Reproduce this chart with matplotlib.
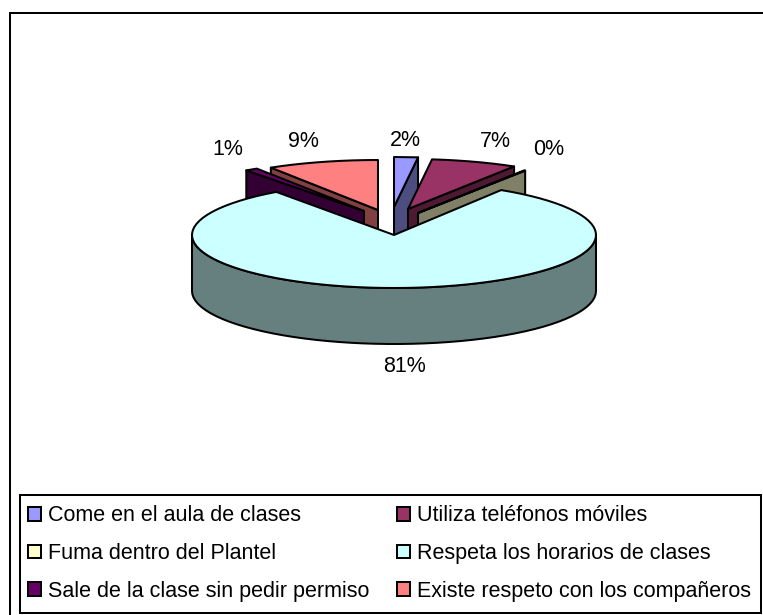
import numpy as np
import matplotlib
matplotlib.use("Agg")
import matplotlib.pyplot as plt
from matplotlib.patches import Polygon, Patch, Rectangle

plt.rcParams['font.family'] = ['Liberation Sans', 'DejaVu Sans']

categories = ["Come en el aula de clases", "Utiliza teléfonos móviles",
              "Fuma dentro del Plantel", "Respeta los horarios de clases",
              "Sale de la clase sin pedir permiso", "Existe respeto con los compañeros"]
values = [1.9, 6.9, 0.1, 81.2, 1.0, 8.9]
top_colors = ["#9999FF", "#993366", "#FFFFCC", "#CCFFFF", "#660066", "#FF8080"]
side_colors = ["#4D4D80", "#4D1933", "#808066", "#668080", "#330033", "#804040"]

CX, CY, RX, RY, DEPTH = 394, 235, 202, 53, 56
RY_BACK = 50
explode = [(0, -28), (14, -26), (24, -22), (0, 0), (-30, -24), (-16, -25)]
label_pos = [(405, 141), (495, 141.5), (549, 149.5), (405, 366.5), (228, 149.5), (303, 141.5)]
LW = 1.45
FS = 15.5

fig = plt.figure(figsize=(7.63, 6.15), dpi=100)
ax = fig.add_axes([0, 0, 1, 1])
ax.set_xlim(0, 763)
ax.set_ylim(615, 0)
ax.axis('off')

ax.plot([10, 10, 763], [615, 13, 13], color='black', lw=LW, solid_joinstyle='miter')


def pt(a, ox, oy):
    r = np.radians(a)
    ry = RY if (ox, oy) == (0, 0) else RY_BACK
    return CX + ox + RX * np.sin(r), CY + oy - ry * np.cos(r)


def arc(a0, a1, ox, oy):
    n = max(2, int(abs(a1 - a0) / 3.5) + 1)
    ang = np.linspace(a0, a1, n)
    return [pt(a, ox, oy) for a in ang]


edges = np.concatenate([[0], np.cumsum(values)]) / sum(values) * 360


def poly(points, color, z):
    ax.add_patch(Polygon(points, closed=True, facecolor=color, edgecolor='black',
                         lw=LW, joinstyle='round', zorder=z))


def radial_face(a, ox, oy, color, z):
    ax_pt = (CX + ox, CY + oy)
    rim = pt(a, ox, oy)
    poly([ax_pt, rim, (rim[0], rim[1] + DEPTH), (ax_pt[0], ax_pt[1] + DEPTH)], color, z)


def draw_slice(i, z):
    a0, a1 = edges[i], edges[i + 1]
    ox, oy = explode[i]
    # the cut face that looks at the viewer
    if a1 <= 180:
        radial_face(a1, ox, oy, side_colors[i], z)
    elif a0 >= 180:
        radial_face(a0, ox, oy, side_colors[i], z)
    else:
        # outer wall of the slice that spans the front of the pie
        lo, hi = max(a0, 90), min(a1, 270)
        upper = arc(lo, hi, ox, oy)
        lower = [(x, y + DEPTH) for x, y in upper[::-1]]
        poly(upper + lower, side_colors[i], z)
    poly([(CX + ox, CY + oy)] + arc(a0, a1, ox, oy), top_colors[i], z + 0.5)


# painted from the back of the pie to the front
for z, i in enumerate([0, 1, 2, 5, 4, 3]):
    draw_slice(i, z + 1)

for v, (x, y) in zip(values, label_pos):
    ax.text(x, y, f"{round(v)}%", ha='center', va='center', fontsize=FS, color='black', zorder=20)

# legend box, then the entries: the reference reads row by row, matplotlib fills by column
ax.add_patch(Rectangle((20, 495), 741, 118, facecolor='white', edgecolor='black', lw=LW, zorder=19))
order = [0, 2, 4, 1, 3, 5]
handles = [Patch(facecolor=top_colors[i], edgecolor='black', lw=LW) for i in order]
leg = ax.legend(handles, [categories[i] for i in order], ncol=2, loc='center',
                bbox_to_anchor=(389.5, 553.5), bbox_transform=ax.transData,
                fontsize=FS, frameon=False,
                handlelength=0.6, handleheight=0.6, handletextpad=0.31,
                labelspacing=0.77, columnspacing=1.32, borderpad=0, borderaxespad=0)
leg.set_zorder(20)

fig.savefig("out.png", dpi=100)
